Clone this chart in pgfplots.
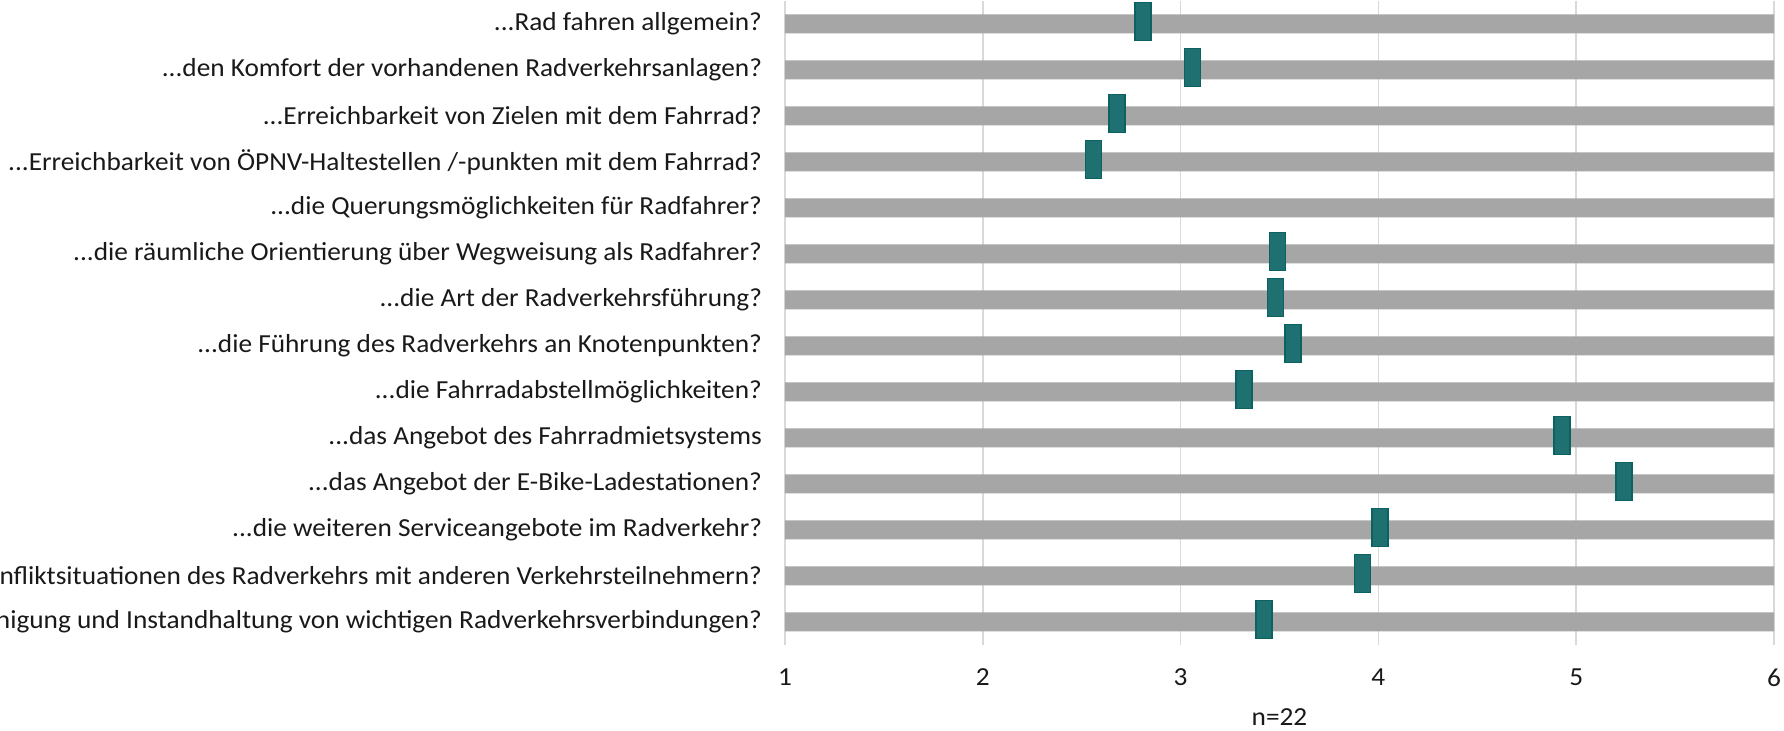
\documentclass[border=0pt]{standalone}
\usepackage{fontspec}
\setmainfont{Carlito}[FakeStretch=1.05]
\usepackage{pgfplots}
\pgfplotsset{compat=1.18}
\definecolor{barGray}{HTML}{A6A6A6}
\definecolor{gridGray}{HTML}{D9D9D9}
\definecolor{markFill}{HTML}{1F7070}
\definecolor{markDraw}{HTML}{0C6161}
\newcommand\dd{...}
\pgfdeclareplotmark{vrect}{%
  \pgfpathrectangle{\pgfpoint{-4pt}{-9.5pt}}{\pgfpoint{8pt}{19pt}}%
  \pgfusepathqfillstroke}
\begin{document}
\begin{tikzpicture}
\begin{axis}[
  at={(392.5pt,43pt)}, anchor=south west,
  width=494.5pt, height=322pt, scale only axis,
  xmin=1, xmax=6, ymin=0.5, ymax=14.5, y dir=reverse,
  xtick={1,2,3,4,5,6}, ytick={1,2,3,4,5,6,7,8,9,10,11,12,13,14},
  yticklabels={
    {\dd Rad fahren allgemein?},
    {\dd den Komfort der vorhandenen Radverkehrsanlagen?},
    {\dd Erreichbarkeit von Zielen mit dem Fahrrad?},
    {\dd Erreichbarkeit von ÖPNV-Haltestellen /-punkten mit dem Fahrrad?},
    {\dd die Querungsmöglichkeiten für Radfahrer?},
    {\dd die räumliche Orientierung über Wegweisung als Radfahrer?},
    {\dd die Art der Radverkehrsführung?},
    {\dd die Führung des Radverkehrs an Knotenpunkten?},
    {\dd die Fahrradabstellmöglichkeiten?},
    {\dd das Angebot des Fahrradmietsystems},
    {\dd das Angebot der E-Bike-Ladestationen?},
    {\dd die weiteren Serviceangebote im Radverkehr?},
    {\dd die Konfliktsituationen des Radverkehrs mit anderen Verkehrsteilnehmern?},
    {\dd die Reinigung und Instandhaltung von wichtigen Radverkehrsverbindungen?}},
  major tick length=0pt,
  xmajorgrids, grid style={gridGray, line width=0.75pt},
  axis line style={draw=none},
  tick label style={font=\fontsize{13}{15}\selectfont, text=black!90},
  /pgf/number format/assume math mode=true,
  xticklabel style={yshift=-8.5pt},
  yticklabel style={xshift=-8pt},
  xlabel={n=22},
  xlabel style={at={(axis description cs:0.5,0)}, anchor=center, yshift=-36pt, font=\fontsize{13}{15}\selectfont, text=black!90},
]
\addplot[xbar, fill=barGray, draw=none, bar width=9.5pt] coordinates {
  (6,1) (6,2) (6,3) (6,4) (6,5) (6,6) (6,7) (6,8) (6,9) (6,10) (6,11) (6,12) (6,13) (6,14)};
\addplot[only marks, mark=vrect, mark options={fill=markFill, draw=markDraw, line width=0.9pt, yshift=1.2pt}] coordinates {
  (2.81,1) (3.06,2) (2.68,3) (2.56,4) (3.49,6) (3.48,7) (3.57,8) (3.32,9)
  (4.93,10) (5.24,11) (4.01,12) (3.92,13) (3.42,14)};
\end{axis}
\pgfresetboundingbox
\path[use as bounding box] (0,0) rectangle (892pt,365.5pt);
\end{tikzpicture}
\end{document}
